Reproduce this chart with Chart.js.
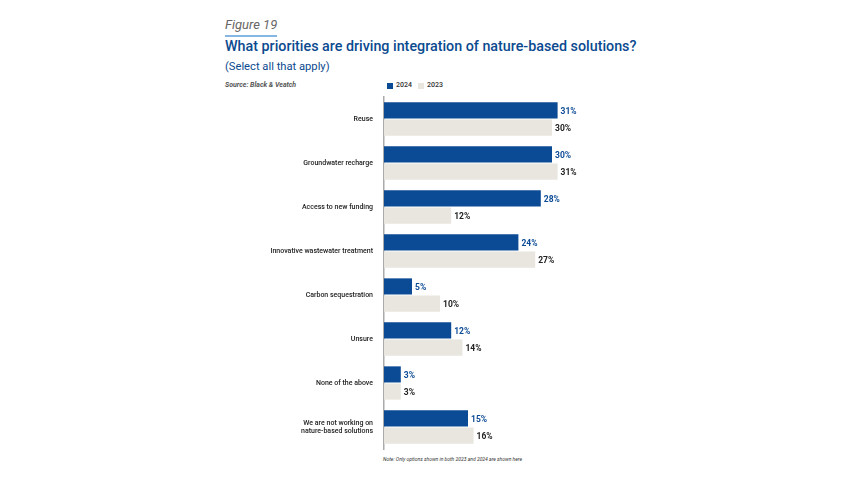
<!DOCTYPE html>
<html>
<head>
<meta charset="utf-8">
<script src="https://cdn.jsdelivr.net/npm/chart.js@4"></script>
<style>
  body { margin: 0; background: #fff; font-family: Roboto, sans-serif; }
  #wrap { position: relative; width: 853px; height: 480px; overflow: hidden; }
  #mycanvas { position: absolute; left: 0; top: 0; }
  .t { position: absolute; white-space: nowrap; }
</style>
</head>
<body>
<div id="wrap">
  <div class="t" style="left:225px;top:17px;font-size:13px;font-style:italic;color:#666;">Figure 19</div>
  <div style="position:absolute;left:225px;top:35px;width:52px;height:2px;background:#86b7e3;"></div>
  <div class="t" style="left:225px;top:38px;font-size:14.3px;font-weight:500;color:#0b4a8f;">What priorities are driving integration of nature-based solutions?</div>
  <div class="t" style="left:225px;top:60px;font-size:11.2px;color:#0b4a8f;">(Select all that apply)</div>
  <div class="t" style="left:225px;top:81px;font-size:7px;font-style:italic;font-weight:700;color:#555;">Source: Black &amp; Veatch</div>
  <div style="position:absolute;left:387px;top:83px;width:6px;height:6px;background:#0b4a94;"></div>
  <div class="t" style="left:396px;top:81px;font-size:7px;font-weight:500;color:#333;">2024</div>
  <div style="position:absolute;left:418px;top:83px;width:6px;height:6px;background:#e8e6df;"></div>
  <div class="t" style="left:427px;top:81px;font-size:7px;font-weight:500;color:#333;">2023</div>
  <div class="t" style="left:383px;top:456px;font-size:5px;font-style:italic;color:#333;">Note: Only options shown in both 2023 and 2024 are shown here</div>
  <canvas id="mycanvas" width="853" height="480"></canvas>
</div>
<script>
const categories = [
    'Reuse',
    'Groundwater recharge',
    'Access to new funding',
    'Innovative wastewater treatment',
    'Carbon sequestration',
    'Unsure',
    'None of the above',
    ['We are not working on', 'nature-based solutions']
];
const values_2024 = [31, 30, 28, 24, 5, 12, 3, 15];
const values_2023 = [30, 31, 12, 27, 10, 14, 3, 16];

const blue = '#0b4a94';
const beige = '#e8e6df';

// draws the % labels at the end of each bar
const valueLabels = {
    id: 'valueLabels',
    afterDatasetsDraw(chart) {
        const ctx = chart.ctx;
        ctx.save();
        ctx.font = 'bold 8.5px Roboto';
        ctx.textBaseline = 'middle';
        ctx.textAlign = 'left';
        chart.data.datasets.forEach((ds, i) => {
            const meta = chart.getDatasetMeta(i);
            ctx.fillStyle = i === 0 ? '#0b4a94' : '#222222';
            meta.data.forEach((bar, j) => {
                ctx.fillText(ds.data[j] + '%', bar.x + 3, bar.y + 1);
            });
        });
        ctx.restore();
    }
};

const mycanvas = document.getElementById('mycanvas').getContext('2d');
const chart = new Chart(mycanvas, {
    type: 'bar',
    data: {
        labels: categories,
        datasets: [
            {
                label: '2024',
                data: values_2024,
                backgroundColor: blue,
                borderWidth: 0,
                categoryPercentage: 0.78,
                barPercentage: 0.94
            },
            {
                label: '2023',
                data: values_2023,
                backgroundColor: beige,
                borderWidth: 0,
                categoryPercentage: 0.78,
                barPercentage: 0.94
            }
        ]
    },
    plugins: [valueLabels],
    options: {
        indexAxis: 'y',
        responsive: false,
        animation: false,
        events: [],
        layout: {
            padding: { left: 0, right: 273, top: 97, bottom: 31 }
        },
        plugins: {
            legend: { display: false },
            tooltip: { enabled: false }
        },
        scales: {
            x: {
                display: false,
                min: 0,
                max: 35
            },
            y: {
                grid: { display: false },
                border: { display: true, color: '#aaaaaa', width: 1.5 },
                afterFit(scale) { scale.width = 384; },
                ticks: {
                    color: '#222',
                    padding: 3,
                    font: { family: 'Roboto', size: 7, weight: 500 }
                }
            }
        }
    }
});
</script>
</body>
</html>
